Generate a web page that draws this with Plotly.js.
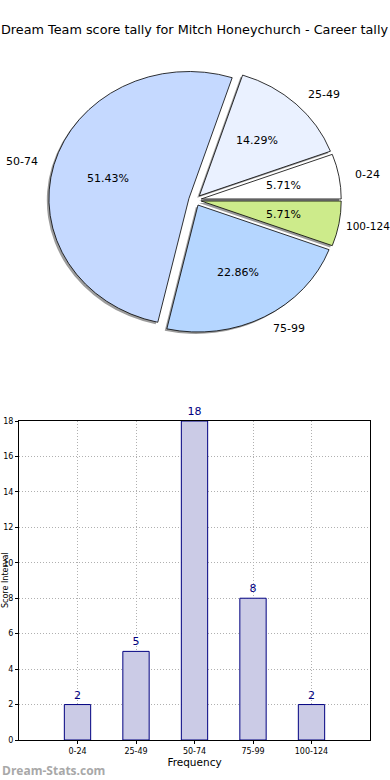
<!DOCTYPE html>
<html>
<head>
<meta charset="utf-8">
<script src="https://cdn.plot.ly/plotly-3.0.1.min.js"></script>
<style>html,body{margin:0;padding:0;background:#fff;}#chart{width:390px;height:780px;}</style>
</head>
<body>
<div id="chart"></div>
<script>
var categories = ["0-24", "25-49", "50-74", "75-99", "100-124"];
var tallies = [2, 5, 18, 8, 2];
var sliceColors = ["#ffffff", "#eaf1ff", "#c5d9ff", "#b5d6ff", "#cdeb8b"];
var yTicks = [0, 2, 4, 6, 8, 10, 12, 14, 16, 18];
var chartTitle = "Dream Team score tally for Mitch Honeychurch - Career tally";
var xTitle = "Frequency";
var yTitle = "Score Interval";
var watermark = "Dream-Stats.com";

var W = 390, H = 780;
var mL = 19, mR = 20, mT = 0, mB = 40;
var pw = W - mL - mR, ph = H - mT - mB;
function px(x) { return (x - mL) / pw; }
function py(y) { return (H - mB - y) / ph; }

var pull = 0.045;
var pieCx = 195, pieCy = 200, pieR = 133;
var sx = 140 / pieR, sy = 127 / pieR;   // the reference pie is slightly elliptical
var pieHalf = pieR * (1 + pull);
var pieDomX = [px(pieCx - pieHalf), px(pieCx + pieHalf)];
var pieDomY = [py(pieCy + pieHalf), py(pieCy - pieHalf)];
var pulls = categories.map(function () { return pull; });

var total = tallies.reduce(function (a, b) { return a + b; }, 0);
// Plotly counterclockwise: shift so the first slice starts at 3 o'clock
var rot = 90 - 360 * tallies[0] / total;

var shadowDx = -2 / pw, shadowDy = -2 / ph;

var shadow = {
  type: "pie", labels: categories, values: tallies, sort: false,
  direction: "counterclockwise", rotation: rot, pull: pulls,
  domain: {x: [pieDomX[0] + shadowDx, pieDomX[1] + shadowDx], y: [pieDomY[0] + shadowDy, pieDomY[1] + shadowDy]},
  marker: {colors: categories.map(function () { return "rgba(90,90,90,0.6)"; }), line: {width: 0}},
  textinfo: "none", hoverinfo: "skip", showlegend: false
};
var pie = {
  type: "pie", labels: categories, values: tallies, sort: false,
  direction: "counterclockwise", rotation: rot, pull: pulls,
  domain: {x: pieDomX, y: pieDomY},
  marker: {colors: sliceColors, line: {color: "#000", width: 0.8}},
  textinfo: "none",
  hoverinfo: "label+value", showlegend: false
};
var bars = {
  type: "bar", x: categories, y: tallies, width: 0.45,
  xaxis: "x", yaxis: "y",
  marker: {color: "#cbcbe6", line: {color: "#000080", width: 1}},
  text: tallies.map(String), textposition: "outside", cliponaxis: false,
  textfont: {size: 11, color: "#000080", family: "DejaVu Sans"},
  hoverinfo: "x+y", showlegend: false
};

function textWidthEm(str) {
  var w = 0;
  for (var j = 0; j < str.length; j++) w += (str[j] === "-") ? 0.361 : 0.636;
  return w;
}

// slice labels (labeldistance 1.1) and percentages (pctdistance 0.6), matplotlib-style
var pieAnns = [];
var acc = 0;
for (var i = 0; i < categories.length; i++) {
  var mid = 2 * Math.PI * (acc + tallies[i] / 2) / total;
  acc += tallies[i];
  var c = Math.cos(mid), s = Math.sin(mid);
  var d = (1.1 + pull) * pieR;
  var lx = pieCx + d * c * sx;
  var ly = pieCy - d * s * sy;
  var fs = 11;
  if (c >= 0 && lx + textWidthEm(categories[i]) * fs > W - 2) {
    fs = 10.5;
    lx = W - 2 - textWidthEm(categories[i]) * fs;
  }
  pieAnns.push({
    text: categories[i], xref: "paper", yref: "paper",
    x: px(lx), y: py(ly), xanchor: c >= 0 ? "left" : "right", yanchor: "middle",
    showarrow: false, font: {size: fs, color: "#000"}
  });
  var pd = (0.6 + pull) * pieR;
  var pct = (100 * tallies[i] / total).toFixed(2) + "%";
  pieAnns.push({
    text: pct, xref: "paper", yref: "paper",
    x: px(pieCx + pd * c * sx), y: py(pieCy - pd * s * sy), xanchor: "center", yanchor: "middle",
    showarrow: false, font: {size: 11, color: "#000"}
  });
}

var layout = {
  width: W, height: H,
  margin: {l: mL, r: mR, t: mT, b: mB},
  paper_bgcolor: "#fff", plot_bgcolor: "#fff",
  font: {family: "DejaVu Sans", color: "#000"},
  title: {text: chartTitle, font: {size: 12.8, color: "#000"}, x: 0.5, xref: "paper", xanchor: "center",
          y: 1 - 30 / H, yref: "container", yanchor: "middle"},
  xaxis: {
    domain: [0, 1], anchor: "y", type: "category", range: [-1, 5],
    showline: true, linecolor: "#000", linewidth: 1, mirror: true,
    ticks: "outside", ticklen: 3, tickcolor: "#000",
    tickfont: {size: 8, color: "#000"},
    showgrid: true, gridcolor: "#b0b0b0", griddash: "1px,2px", gridwidth: 1,
    title: {text: xTitle, font: {size: 10.5, color: "#000"}, standoff: 4},
    fixedrange: true
  },
  yaxis: {
    domain: [0, py(421)], anchor: "x", range: [0, 18],
    tickvals: yTicks, ticktext: yTicks.map(String),
    showline: true, linecolor: "#000", linewidth: 1, mirror: true,
    ticks: "outside", ticklen: 3, tickcolor: "#000",
    tickfont: {size: 8, color: "#000"},
    showgrid: true, gridcolor: "#b0b0b0", griddash: "1px,2px", gridwidth: 1,
    zeroline: false, fixedrange: true
  },
  annotations: pieAnns.concat([
    {text: yTitle, textangle: -90, xref: "paper", yref: "paper",
     x: px(5), xanchor: "center", y: py(580), yanchor: "middle",
     showarrow: false, font: {size: 8, color: "#000"}},
    {text: "<b>" + watermark + "</b>", xref: "paper", yref: "paper",
     x: px(0), xanchor: "left", y: py(771), yanchor: "middle",
     showarrow: false, font: {size: 12, color: "#a8a8a8", family: "Open Sans"}}
  ])
};

Plotly.newPlot("chart", [shadow, pie, bars], layout, {displayModeBar: false, staticPlot: true}).then(function (gd) {
  var t = "translate(" + pieCx + "," + pieCy + ") scale(" + sx + "," + sy + ") translate(" + (-pieCx) + "," + (-pieCy) + ")";
  var paths = gd.querySelectorAll(".pielayer path.surface");
  for (var k = 0; k < paths.length; k++) {
    var old = paths[k].getAttribute("transform") || "";
    paths[k].setAttribute("transform", t + " " + old);
    paths[k].style.vectorEffect = "non-scaling-stroke";
  }
});
</script>
</body>
</html>
